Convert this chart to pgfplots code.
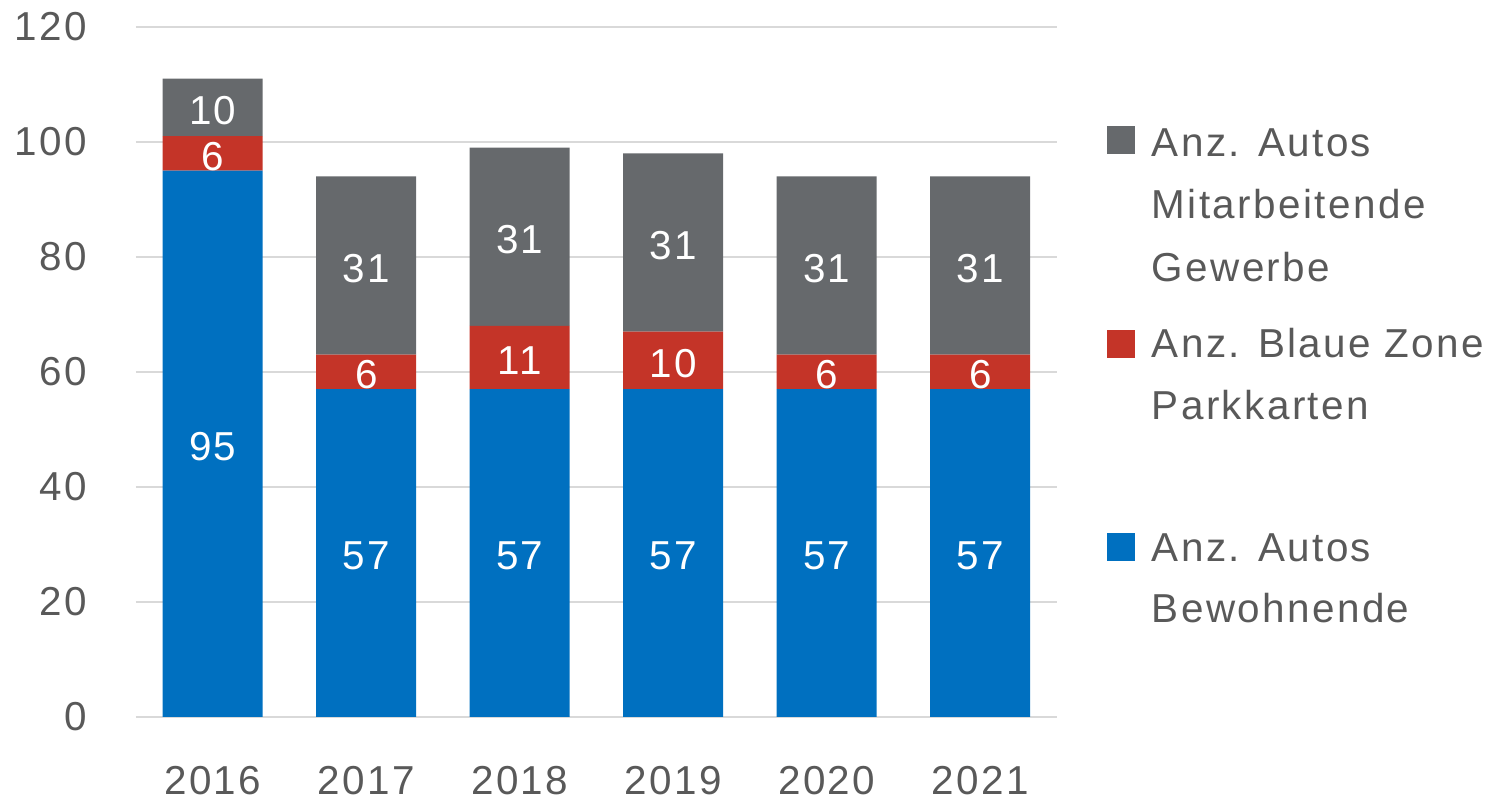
\documentclass[border=0pt]{standalone}
\usepackage{pgfplots}
\pgfplotsset{compat=1.18}
\usepackage{pgfplotstable}
\usepackage{fontspec}
\setmainfont{Liberation Sans}[LetterSpace=6]

\definecolor{cBlue}{HTML}{0070C0}
\definecolor{cRed}{HTML}{C43428}
\definecolor{cGray}{HTML}{66696C}
\definecolor{cText}{HTML}{595959}
\definecolor{cGrid}{HTML}{D9D9D9}
\newcommand\chartfont{\fontsize{10.1}{12}\selectfont}
\tikzset{
  vl/.style={font=\chartfont, text=white, yshift=-0.75pt},
  lg/.style={font=\chartfont, text=cText, anchor=base west, inner sep=0pt},
}

% x, Bewohnende, Parkkarten, Mitarbeitende
\pgfplotstableread{
x bew park mit
0 95 6 10
1 57 6 31
2 57 11 31
3 57 10 31
4 57 6 31
5 57 6 31
}\datatable

\begin{document}
\begin{tikzpicture}
\useasboundingbox (-34pt,-20.75pt) rectangle (338.75pt,179.25pt);
\begin{axis}[
  scale only axis,
  width=230.25pt, height=172.5pt,
  ybar stacked, bar width=25pt,
  xmin=-0.5, xmax=5.5, ymin=0, ymax=120,
  xtick={0,...,5},
  xticklabels={2016,2017,2018,2019,2020,2021},
  ytick={0,20,...,120},
  axis line style={draw=none},
  tick style={draw=none},
  ymajorgrids,
  grid style={color=cGrid, line width=0.5pt},
  ticklabel style={font=\chartfont, text=cText},
  yticklabel style={xshift=-8.75pt},
  xticklabel style={yshift=-8.7pt},
  /pgf/number format/assume math mode=true,
]
\addplot[fill=cBlue, draw=none] table[x=x, y=bew]{\datatable};
\addplot[fill=cRed, draw=none] table[x=x, y=park]{\datatable};
\addplot[fill=cGray, draw=none] table[x=x, y=mit]{\datatable};

% label anchors (segment middles)
\coordinate (a0) at (axis cs:0,47.5);
\coordinate (b0) at (axis cs:0,98);
\coordinate (c0) at (axis cs:0,106);
\coordinate (a1) at (axis cs:1,28.5);
\coordinate (b1) at (axis cs:1,60);
\coordinate (c1) at (axis cs:1,78.5);
\coordinate (a2) at (axis cs:2,28.5);
\coordinate (b2) at (axis cs:2,62.5);
\coordinate (c2) at (axis cs:2,83.5);
\coordinate (a3) at (axis cs:3,28.5);
\coordinate (b3) at (axis cs:3,62);
\coordinate (c3) at (axis cs:3,82.5);
\coordinate (a4) at (axis cs:4,28.5);
\coordinate (b4) at (axis cs:4,60);
\coordinate (c4) at (axis cs:4,78.5);
\coordinate (a5) at (axis cs:5,28.5);
\coordinate (b5) at (axis cs:5,60);
\coordinate (c5) at (axis cs:5,78.5);
\end{axis}

\node[vl] at (a0) {95}; \node[vl] at (b0) {6};  \node[vl] at (c0) {10};
\node[vl] at (a1) {57}; \node[vl] at (b1) {6};  \node[vl] at (c1) {31};
\node[vl] at (a2) {57}; \node[vl] at (b2) {11}; \node[vl] at (c2) {31};
\node[vl] at (a3) {57}; \node[vl] at (b3) {10}; \node[vl] at (c3) {31};
\node[vl] at (a4) {57}; \node[vl] at (b4) {6};  \node[vl] at (c4) {31};
\node[vl] at (a5) {57}; \node[vl] at (b5) {6};  \node[vl] at (c5) {31};

% legend
\fill[cGray] (242.75pt,140.75pt) rectangle ++(7pt,7pt);
\fill[cRed] (242.75pt,89.75pt) rectangle ++(7pt,7pt);
\fill[cBlue] (242.75pt,39pt) rectangle ++(7pt,7pt);
\node[lg] at (253.75pt,140.125pt) {Anz. Autos};
\node[lg] at (253.75pt,124.5pt) {Mitarbeitende};
\node[lg] at (253.75pt,108.875pt) {Gewerbe};
\node[lg] at (253.75pt,89.75pt) {Anz. Blaue Zone};
\node[lg] at (253.75pt,74.25pt) {Parkkarten};
\node[lg] at (253.75pt,38.875pt) {Anz. Autos};
\node[lg] at (253.75pt,23.5pt) {Bewohnende};
\end{tikzpicture}
\end{document}
